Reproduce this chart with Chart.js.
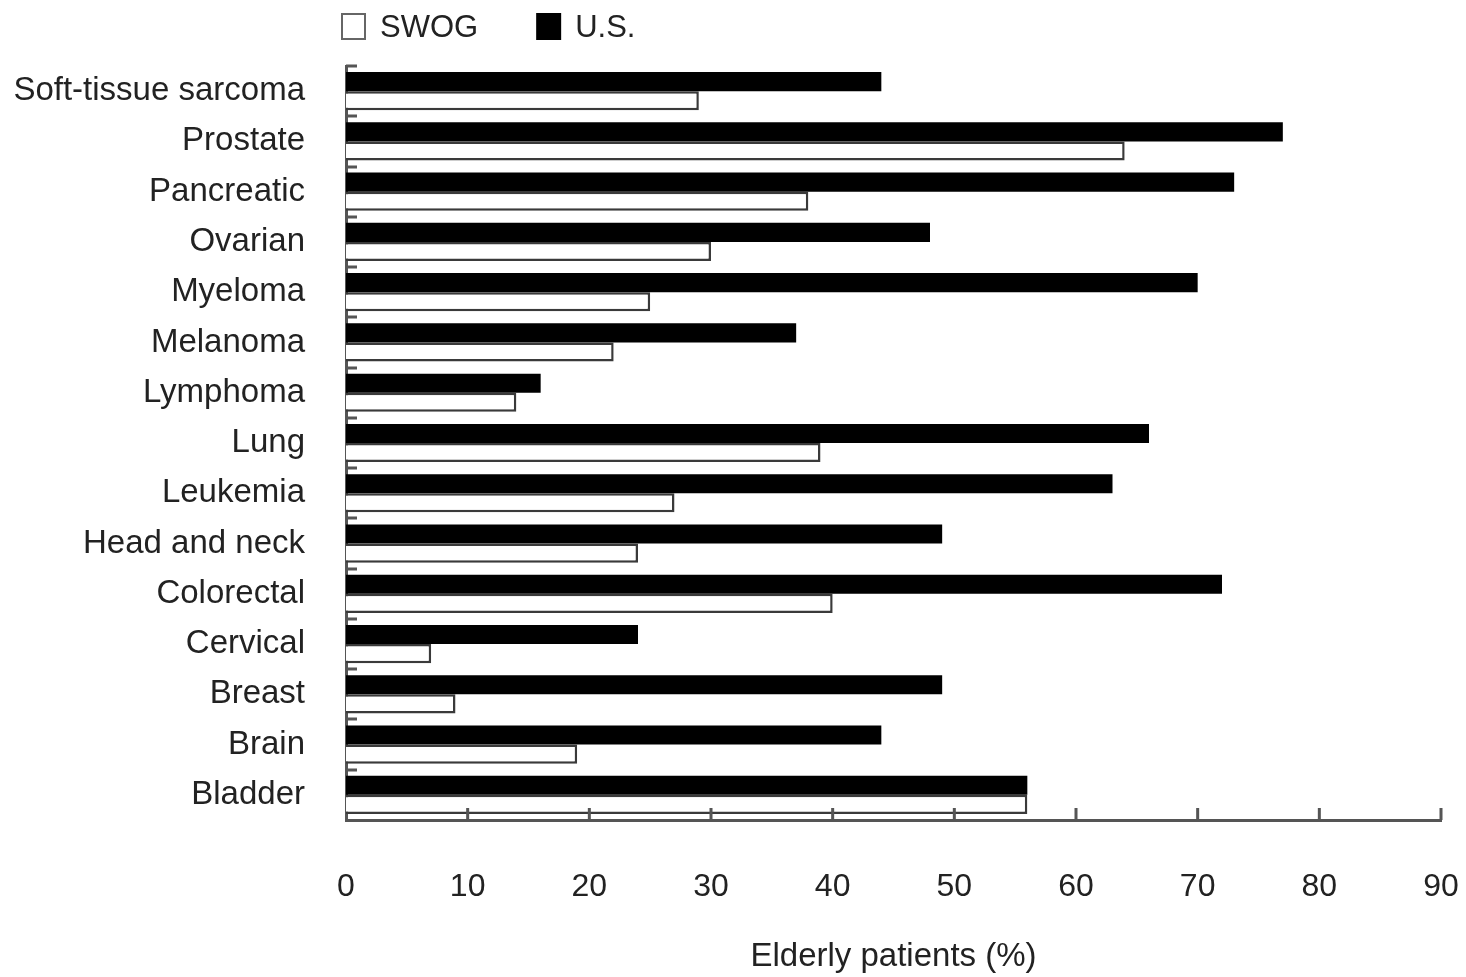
<!DOCTYPE html>
<html lang="en">
<head>
  <meta charset="UTF-8">
  <title>Elderly patients by cancer type - SWOG vs U.S.</title>
  <script src="https://cdn.jsdelivr.net/npm/chart.js"></script>
  <style>
    html, body { margin: 0; padding: 0; background: #fff; }
    #wrap { width: 1466px; height: 977px; }
  </style>
</head>
<body>
  <div id="wrap">
    <canvas id="elderlyChart" width="1466" height="977"></canvas>
  </div>

  <script>
    // data (top to bottom)
    const categories = ['Soft-tissue sarcoma', 'Prostate', 'Pancreatic', 'Ovarian', 'Myeloma', 'Melanoma',
      'Lymphoma', 'Lung', 'Leukemia', 'Head and neck', 'Colorectal', 'Cervical', 'Breast', 'Brain', 'Bladder'];
    const usValues   = [44, 77, 73, 48, 70, 37, 16, 66, 63, 49, 72, 24, 49, 44, 56];
    const swogValues = [29, 64, 38, 30, 25, 22, 14, 39, 27, 24, 40, 7, 9, 19, 56];
    const xTicks = [0, 10, 20, 30, 40, 50, 60, 70, 80, 90];

    const FONT = '"Liberation Sans", Arial, Helvetica, sans-serif';
    const TEXT = '#222';
    const AXIS = '#555';

    // small inward tick marks like the original figure
    const axisMarks = {
      id: 'axisMarks',
      afterDatasetsDraw(chart) {
        const { ctx, chartArea, scales: { x, y } } = chart;
        ctx.save();
        ctx.strokeStyle = AXIS;
        ctx.lineWidth = 3;
        ctx.beginPath();
        xTicks.forEach(v => {
          if (v === 0) return;
          const px = x.getPixelForValue(v);
          ctx.moveTo(px, chartArea.bottom);
          ctx.lineTo(px, chartArea.bottom - 12);
        });
        const half = (y.getPixelForValue(1) - y.getPixelForValue(0)) / 2;
        categories.forEach((c, i) => {
          const py = Math.round(y.getPixelForValue(i) - half);
          ctx.moveTo(chartArea.left, py);
          ctx.lineTo(chartArea.left + 11, py);
        });
        ctx.stroke();
        ctx.restore();
      }
    };

    // legend drawn above the plot, starting at the y axis
    const legendOrder = [1, 0];
    const topLegend = {
      id: 'topLegend',
      afterDraw(chart) {
        const { ctx, chartArea } = chart;
        ctx.save();
        ctx.font = '31px ' + FONT;
        ctx.textBaseline = 'middle';
        let xPos = chartArea.left - 4;
        legendOrder.forEach(i => {
          const ds = chart.data.datasets[i];
          ctx.fillStyle = ds.backgroundColor;
          ctx.fillRect(xPos, 14, 23, 25);
          ctx.strokeStyle = i === 0 ? '#000' : '#666';
          ctx.lineWidth = 2;
          ctx.strokeRect(xPos, 14, 23, 25);
          ctx.fillStyle = TEXT;
          ctx.fillText(ds.label, xPos + 38, 28);
          xPos += 38 + ctx.measureText(ds.label).width + 59;
        });
        ctx.restore();
      }
    };

    const ctx = document.getElementById('elderlyChart').getContext('2d');
    new Chart(ctx, {
      type: 'bar',
      data: {
        labels: categories,
        datasets: [
          {
            label: 'U.S.',
            data: usValues,
            backgroundColor: '#000',
            borderColor: '#000',
            borderWidth: 0,
            categoryPercentage: 0.76,
            barPercentage: 1.0
          },
          {
            label: 'SWOG',
            data: swogValues,
            backgroundColor: '#fff',
            borderColor: '#3a3a3a',
            borderWidth: 2.5,
            categoryPercentage: 0.76,
            barPercentage: 1.0
          }
        ]
      },
      options: {
        indexAxis: 'y',
        responsive: false,
        animation: false,
        layout: { padding: { top: 66, right: 25, bottom: 0, left: 0 } },
        plugins: {
          legend: { display: false },
          tooltip: { enabled: false }
        },
        scales: {
          x: {
            min: 0,
            max: 90,
            afterFit: s => { s.height = 157; s.paddingLeft = 0; s.paddingRight = 0; },
            afterBuildTicks: s => { s.ticks = xTicks.map(v => ({ value: v })); },
            grid: { display: false },
            border: { display: true, color: AXIS, width: 3 },
            ticks: {
              color: TEXT,
              font: { family: FONT, size: 32 },
              padding: 40,
              maxRotation: 0
            },
            title: {
              display: true,
              text: 'Elderly patients (%)',
              color: TEXT,
              font: { family: FONT, size: 33 },
              padding: { top: 0, bottom: 0 }
            }
          },
          y: {
            afterFit: s => { s.width = 346; },
            grid: { display: false },
            border: { display: true, color: AXIS, width: 3 },
            ticks: {
              color: TEXT,
              font: { family: FONT, size: 33 },
              padding: 33
            }
          }
        }
      },
      plugins: [axisMarks, topLegend]
    });
  </script>
</body>
</html>
